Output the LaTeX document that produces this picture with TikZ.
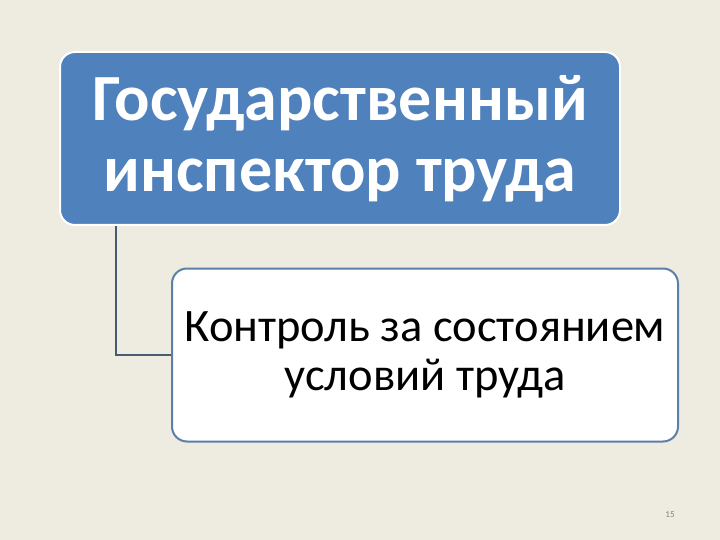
\documentclass[tikz,border=0pt]{standalone}
\usepackage{fontspec}
\setmainfont{Carlito}
\definecolor{slidebg}{HTML}{EEECE1}
\definecolor{accentblue}{HTML}{4F81BD}
\definecolor{frameblue}{HTML}{5B7FAA}
\definecolor{linkgray}{HTML}{475B73}

\begin{document}
\begin{tikzpicture}[x=1pt, y=-1pt]
        \fill[slidebg] (0, 0) rectangle (720, 540);
        \useasboundingbox (0, 0) rectangle (720, 540);
        \node[draw=white, line width=2pt, fill=accentblue, rounded corners=15pt,
              minimum width=560pt, minimum height=173pt, text=white, align=center,
              font=\bfseries\fontsize{66}{71}\selectfont] (inspector) at (340, 138.5) {Государственный\\инспектор труда};
        \node[draw=frameblue, line width=2pt, fill=white, rounded corners=15pt,
              minimum width=506pt, minimum height=173pt, text=black, align=center,
              font=\fontsize{46.5}{49}\selectfont] (control) at (425, 355) {Контроль за состоянием\\условий труда};
        \coordinate (elbow) at (116, 354);
        \draw[linkgray, line width=1.5pt] (inspector.south -| elbow) |- (control.west);
        \node[text=gray, font=\fontsize{9}{10}\selectfont] (pagenum) at (670, 515) {15};
\end{tikzpicture}
\end{document}
